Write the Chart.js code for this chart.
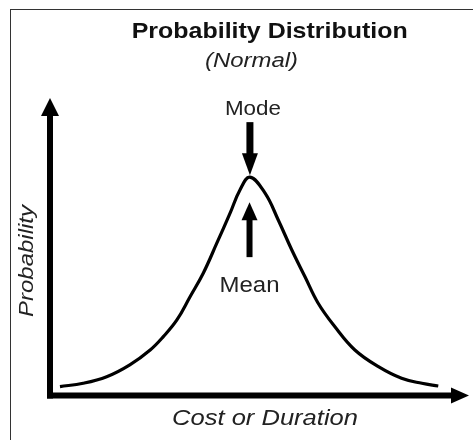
<!DOCTYPE html>
<html>
<head>
<meta charset="utf-8">
<script src="https://cdn.jsdelivr.net/npm/chart.js@4.4.1/dist/chart.umd.min.js"></script>
<style>
  html, body { margin: 0; padding: 0; background: #fff; }
  canvas { display: block; }
</style>
</head>
<body>
<canvas id="distChart" width="473" height="440"></canvas>
<script>
// curve (x = cost/duration units, y = probability units)
const costValues = [2.5, 8.3, 14.2, 20.0, 25.1, 28.4, 31.8, 35.1, 38.4, 41.8, 45.1, 47.6, 50.1,
                    53.9, 57.2, 60.6, 63.9, 67.2, 71.4, 76.4, 82.3, 88.1, 93.2, 97.3];
const probabilityValues = [3.0, 4.1, 6.3, 10.3, 15.3, 19.8, 25.4, 33.2, 41.1, 51.2, 61.2, 69.1, 73.4,
                           68.0, 59.0, 48.9, 39.9, 31.0, 23.1, 15.3, 9.7, 5.8, 4.1, 3.2];
const modeValue = 50.1;   // peak of the curve
const meanValue = 50.0;

const FONT = '"Liberation Sans", Arial, sans-serif';

// draws text squeezed/stretched to a given width
function fitText(ctx, text, x, y, font, width) {
    ctx.save();
    ctx.font = font;
    let w = ctx.measureText(text).width;
    ctx.translate(x, y);
    ctx.scale(width / w, 1);
    ctx.textAlign = 'center';
    ctx.textBaseline = 'alphabetic';
    ctx.fillText(text, 0, 0);
    ctx.restore();
}

function tri(ctx, a, b, c) {
    ctx.beginPath();
    ctx.moveTo(a[0], a[1]);
    ctx.lineTo(b[0], b[1]);
    ctx.lineTo(c[0], c[1]);
    ctx.closePath();
    ctx.fill();
}

const decorPlugin = {
    id: 'decor',
    afterDatasetsDraw(chart) {
        const ctx = chart.ctx;
        const area = chart.chartArea;
        const xs = chart.scales.x;
        const ys = chart.scales.y;
        ctx.save();

        // outer frame
        ctx.strokeStyle = '#333';
        ctx.lineWidth = 1;
        ctx.strokeRect(10.5, 9.5, 600, 600);

        // axes with arrows
        ctx.fillStyle = '#000';
        ctx.fillRect(area.left - 3, area.top + 17, 6, area.bottom + 3 - (area.top + 17));
        ctx.fillRect(area.left - 3, area.bottom - 3, area.right - 17 - (area.left - 3), 6);
        tri(ctx, [area.left, area.top], [area.left - 9, area.top + 18], [area.left + 9, area.top + 18]);
        tri(ctx, [area.right, area.bottom], [area.right - 18, area.bottom - 8], [area.right - 18, area.bottom + 8]);

        // mode arrow (down onto the peak)
        let mx = xs.getPixelForValue(modeValue);
        let peakY = ys.getPixelForValue(Math.max(...probabilityValues));
        ctx.fillRect(mx - 3.5, peakY - 55, 7, 33);
        tri(ctx, [mx, peakY - 2], [mx - 8, peakY - 24], [mx + 8, peakY - 24]);

        // mean arrow (up towards the peak)
        let ax = xs.getPixelForValue(meanValue);
        ctx.fillRect(ax - 3, peakY + 40, 6, 40);
        tri(ctx, [ax, peakY + 25], [ax - 8, peakY + 43], [ax + 8, peakY + 43]);

        // texts
        ctx.fillStyle = '#111';
        fitText(ctx, 'Probability Distribution', 269.7, 38, 'bold 22px ' + FONT, 276);
        ctx.fillStyle = '#222';
        fitText(ctx, '(Normal)', 251.5, 67, 'italic 20px ' + FONT, 93);
        fitText(ctx, 'Mode', mx + 3, 115, '21px ' + FONT, 56);
        fitText(ctx, 'Mean', ax, 292, '22px ' + FONT, 60);
        fitText(ctx, 'Cost or Duration', 265, 425, 'italic 22px ' + FONT, 186);

        ctx.save();
        ctx.translate(33, 261);
        ctx.rotate(-Math.PI / 2);
        fitText(ctx, 'Probability', 0, 0, 'italic 21px ' + FONT, 112);
        ctx.restore();

        ctx.restore();
    }
};

let ctx = document.getElementById('distChart').getContext('2d');
new Chart(ctx, {
    type: 'scatter',
    data: {
        datasets: [{
            data: costValues.map((c, i) => ({ x: c, y: probabilityValues[i] })),
            showLine: true,
            borderColor: '#000',
            borderWidth: 3.2,
            pointRadius: 0,
            tension: 0.4,
            fill: false
        }]
    },
    options: {
        responsive: false,
        animation: false,
        layout: { padding: { left: 50, right: 4, top: 98, bottom: 44.5 } },
        scales: {
            x: { type: 'linear', display: false, min: 0, max: 105 },
            y: { type: 'linear', display: false, min: 0, max: 100 }
        },
        plugins: {
            legend: { display: false },
            tooltip: { enabled: false }
        }
    },
    plugins: [decorPlugin]
});
</script>
</body>
</html>
